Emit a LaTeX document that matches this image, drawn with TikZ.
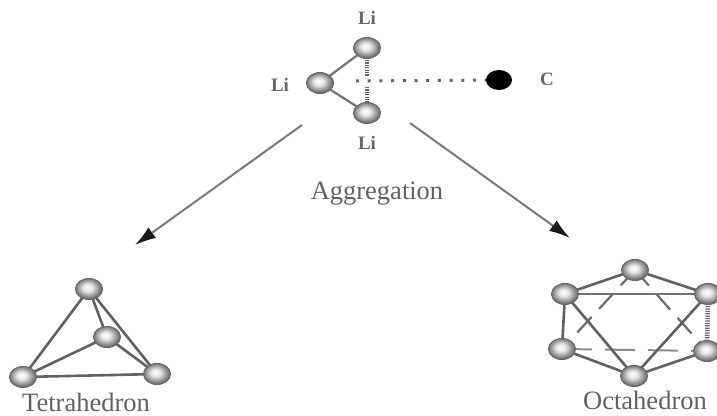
\documentclass[tikz,border=0pt]{standalone}
\usepackage{fontspec}
\setmainfont{Liberation Serif}
\usetikzlibrary{shapes.geometric,arrows.meta}
\pgfdeclareradialshading{ballshade}{\pgfpoint{-3bp}{4bp}}{%
  color(0bp)=(white);
  color(9bp)=(black!10);
  color(18bp)=(black!38);
  color(25bp)=(black!58);
  color(50bp)=(black!62)}
\tikzset{
  ball/.style={ellipse,minimum width=27pt,minimum height=21pt,inner sep=0pt,draw=black!60,line width=1pt,
    shading=ballshade},
  cball/.style={ellipse,minimum width=26pt,minimum height=20pt,inner sep=0pt,fill=black},
  lab/.style={font=\fontsize{19}{19}\selectfont\bfseries,text=black!60,inner sep=0pt},
  captext/.style={font=\fontsize{26.5}{26.5}\selectfont,text=black!62,inner sep=0pt,anchor=base},
  bond/.style={draw=black!62,line width=2.6pt},
  thinbond/.style={draw=black!55,line width=2.2pt},
  hidden/.style={draw=black!58,line width=2.2pt,dash pattern=on 21pt off 11pt},
  hiddenflat/.style={draw=black!45,line width=2pt,dash pattern=on 30pt off 13pt},
  dense/.style={draw=black!60,line width=4.5pt,dash pattern=on 1.2pt off 1.2pt},
  sparse/.style={draw=black!60,line width=3pt,dash pattern=on 3pt off 8.7pt},
  arrowline/.style={draw=black!52,line width=2pt,-{Latex[length=21pt,width=13pt,black!90]}}
}
\begin{document}
\begin{tikzpicture}[x=1pt,y=-1pt]
\useasboundingbox (0,0) rectangle (717,415);
\clip (0,0) rectangle (717,415);
% top group coordinates
\coordinate (ctop) at (367,48);
\coordinate (cbot) at (367,113);
\coordinate (cleft) at (320,83);
\coordinate (cc) at (499,80);
\coordinate (ugap) at (367,76);
\coordinate (lgap) at (367,87);
\coordinate (dstart) at (356,81);
\coordinate (a1s) at (302,125);
\coordinate (a1e) at (135,245);
\coordinate (a2s) at (410,123);
\coordinate (a2e) at (570,238);
\draw[thinbond] (cleft) -- (ctop);
\draw[thinbond] (cleft) -- (cbot);
\draw[dense] (ctop) -- (ugap);
\draw[dense] (lgap) -- (cbot);
\draw[sparse] (dstart) -- (cc);
\node[ball] (t) at (ctop) {};
\node[ball] (b) at (cbot) {};
\node[ball] (l) at (cleft) {};
\node[cball] (c) at (cc) {};
\node[lab] (lt) at (367,18) {Li};
\node[lab] (ll) at (280,85) {Li};
\node[lab] (lb) at (367,143) {Li};
\node[lab] (lc) at (547,79) {C};
\node[captext] (agg) at (377,199) {Aggregation};
\draw[arrowline] (a1s) -- (a1e);
\draw[arrowline] (a2s) -- (a2e);
% tetrahedron
\coordinate (p1) at (89,289);
\coordinate (p2) at (107,337);
\coordinate (p3) at (23,377);
\coordinate (p4) at (157,374);
\draw[bond] (p1) -- (p3);
\draw[bond] (p1) -- (p4);
\draw[bond] (p1) -- (p2);
\draw[bond] (p2) -- (p3);
\draw[bond] (p2) -- (p4);
\draw[bond] (p3) -- (p4);
\node[ball] (T1) at (p1) {};
\node[ball] (T2) at (p2) {};
\node[ball] (T3) at (p3) {};
\node[ball] (T4) at (p4) {};
\node[captext] (tet) at (86,411) {Tetrahedron};
% octahedron
\coordinate (q1) at (635,270);
\coordinate (q2) at (565,294);
\coordinate (q3) at (708,294);
\coordinate (q4) at (562,349);
\coordinate (q5) at (707,351);
\coordinate (q6) at (634,376);
\draw[hidden] (q1) -- (q4);
\draw[hidden] (q1) -- (q5);
\draw[hiddenflat] (q4) -- (q5);
\draw[bond] (q2) -- (q1);
\draw[bond] (q1) -- (q3);
\draw[thinbond] (q2) -- (q3);
\draw[bond] (q2) -- (q4);
\draw[dense] (q3) -- (q5);
\draw[bond] (q4) -- (q6);
\draw[bond] (q5) -- (q6);
\draw[bond] (q2) -- (q6);
\draw[bond] (q3) -- (q6);
\node[ball] (O1) at (q1) {};
\node[ball] (O2) at (q2) {};
\node[ball] (O3) at (q3) {};
\node[ball] (O4) at (q4) {};
\node[ball] (O5) at (q5) {};
\node[ball] (O6) at (q6) {};
\node[captext] (oct) at (645,409) {Octahedron};
\end{tikzpicture}
\end{document}
